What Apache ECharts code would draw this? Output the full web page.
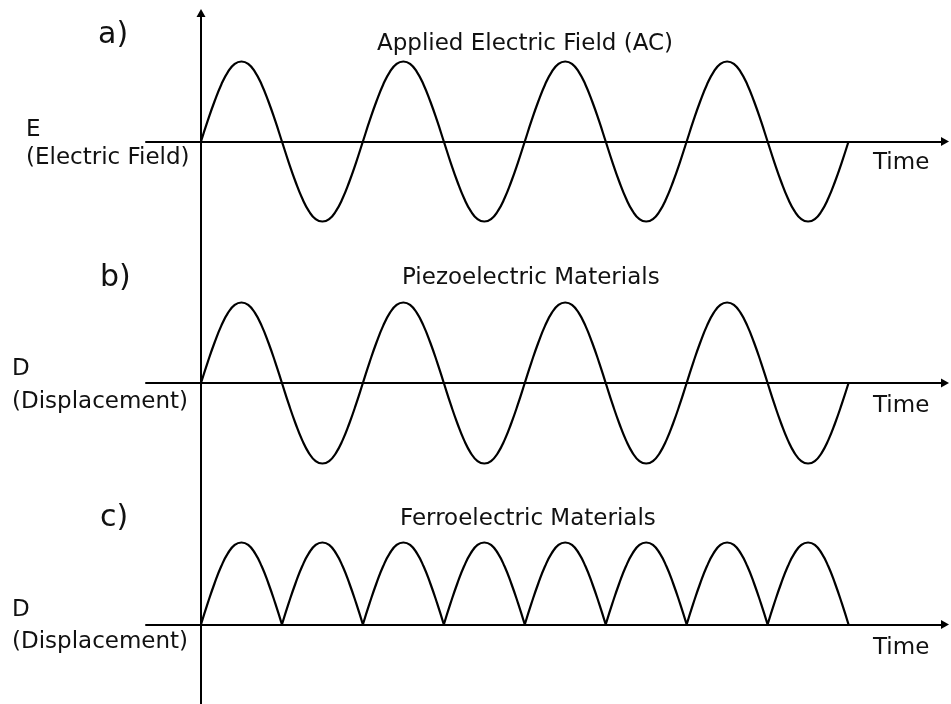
<!DOCTYPE html>
<html>
<head>
<meta charset="utf-8">
<script src="https://cdn.jsdelivr.net/npm/echarts@6/dist/echarts.min.js"></script>
<style>html,body{margin:0;padding:0;background:#fff}#chart{width:951px;height:704px}</style>
</head>
<body>
<div id="chart"></div>
<script>
// time steps (one half-period of the applied field = 12 steps)
const time = [0,1,2,3,4,5,6,7,8,9,10,11,12,13,14,15,16,17,18,19,20,21,22,23,
  24,25,26,27,28,29,30,31,32,33,34,35,36,37,38,39,40,41,42,43,44,45,46,47,
  48,49,50,51,52,53,54,55,56,57,58,59,60,61,62,63,64,65,66,67,68,69,70,71,
  72,73,74,75,76,77,78,79,80,81,82,83,84,85,86,87,88,89,90,91,92,93,94,95,
  96];

// a) applied electric field E (AC)
const fieldE = [
  0,0.26,0.5,0.71,0.87,0.97,1,0.97,0.87,0.71,0.5,0.26,0,-0.26,-0.5,-0.71,-0.87,-0.97,-1,-0.97,-0.87,-0.71,-0.5,-0.26,
  0,0.26,0.5,0.71,0.87,0.97,1,0.97,0.87,0.71,0.5,0.26,0,-0.26,-0.5,-0.71,-0.87,-0.97,-1,-0.97,-0.87,-0.71,-0.5,-0.26,
  0,0.26,0.5,0.71,0.87,0.97,1,0.97,0.87,0.71,0.5,0.26,0,-0.26,-0.5,-0.71,-0.87,-0.97,-1,-0.97,-0.87,-0.71,-0.5,-0.26,
  0,0.26,0.5,0.71,0.87,0.97,1,0.97,0.87,0.71,0.5,0.26,0,-0.26,-0.5,-0.71,-0.87,-0.97,-1,-0.97,-0.87,-0.71,-0.5,-0.26,
  0];

// b) piezoelectric displacement D
const piezoD = [
  0,0.26,0.5,0.71,0.87,0.97,1,0.97,0.87,0.71,0.5,0.26,0,-0.26,-0.5,-0.71,-0.87,-0.97,-1,-0.97,-0.87,-0.71,-0.5,-0.26,
  0,0.26,0.5,0.71,0.87,0.97,1,0.97,0.87,0.71,0.5,0.26,0,-0.26,-0.5,-0.71,-0.87,-0.97,-1,-0.97,-0.87,-0.71,-0.5,-0.26,
  0,0.26,0.5,0.71,0.87,0.97,1,0.97,0.87,0.71,0.5,0.26,0,-0.26,-0.5,-0.71,-0.87,-0.97,-1,-0.97,-0.87,-0.71,-0.5,-0.26,
  0,0.26,0.5,0.71,0.87,0.97,1,0.97,0.87,0.71,0.5,0.26,0,-0.26,-0.5,-0.71,-0.87,-0.97,-1,-0.97,-0.87,-0.71,-0.5,-0.26,
  0];

// c) ferroelectric displacement D
const ferroD = [
  0,0.26,0.5,0.71,0.87,0.97,1,0.97,0.87,0.71,0.5,0.26,0,0.26,0.5,0.71,0.87,0.97,1,0.97,0.87,0.71,0.5,0.26,
  0,0.26,0.5,0.71,0.87,0.97,1,0.97,0.87,0.71,0.5,0.26,0,0.26,0.5,0.71,0.87,0.97,1,0.97,0.87,0.71,0.5,0.26,
  0,0.26,0.5,0.71,0.87,0.97,1,0.97,0.87,0.71,0.5,0.26,0,0.26,0.5,0.71,0.87,0.97,1,0.97,0.87,0.71,0.5,0.26,
  0,0.26,0.5,0.71,0.87,0.97,1,0.97,0.87,0.71,0.5,0.26,0,0.26,0.5,0.71,0.87,0.97,1,0.97,0.87,0.71,0.5,0.26,
  0];

const panelTitles = ['Applied Electric Field (AC)', 'Piezoelectric Materials', 'Ferroelectric Materials'];
const panelTags = ['a)', 'b)', 'c)'];
const timeLabel = 'Time';

// ---- build
function pairs(vals) { return time.map((t, i) => [t, vals[i]]); }
function humps(vals) {
  const out = [];
  time.forEach((t, i) => {
    out.push([t, vals[i]]);
    if (vals[i] === 0 && i > 0 && i < time.length - 1) { out.push([t, '-']); out.push([t, vals[i]]); }
  });
  return out;
}

const INK = '#000';
const FONT = '"DejaVu Sans", "Liberation Sans", sans-serif';
const X_MIN = -8.154, X_MAX = 110.3;

function xAx(gi, showLine) {
  return {
    type: 'value', gridIndex: gi, min: X_MIN, max: X_MAX,
    axisLine: { show: showLine, onZero: true, symbol: ['none', 'triangle'], symbolSize: [9, 8],
      lineStyle: { color: INK, width: 2 } },
    axisTick: { show: false }, axisLabel: { show: false }, splitLine: { show: false }
  };
}
function yAx(gi, min, max, showLine) {
  return {
    type: 'value', gridIndex: gi, min: min, max: max,
    axisLine: { show: showLine, onZero: true, symbol: ['none', 'triangle'], symbolSize: [9, 8],
      lineStyle: { color: INK, width: 2 } },
    axisTick: { show: false }, axisLabel: { show: false }, splitLine: { show: false }
  };
}

function txt(text, x, y, size) {
  return { type: 'text', x: x, y: y, silent: true,
    style: { text: text, fontFamily: FONT, fontSize: size, fill: '#111', align: 'left', verticalAlign: 'middle' } };
}

const lineStyle = { color: INK, width: 2.2 };

const option = {
  animation: false,
  backgroundColor: '#fff',
  grid: [
    { left: 146, width: 799, top: 21.5, height: 240 },
    { left: 146, width: 799, top: 262.25, height: 241.5 },
    { left: 146, width: 799, top: 526.1, height: 139.4 },
    { left: 146, width: 799, top: 13, height: 691 }
  ],
  xAxis: [xAx(0, true), xAx(1, true), xAx(2, true), xAx(3, false)],
  yAxis: [yAx(0, -1.5, 1.5, false), yAx(1, -1.5, 1.5, false), yAx(2, -0.5, 1.2, false), yAx(3, 0, 1, true)],
  series: [
    { type: 'line', xAxisIndex: 0, yAxisIndex: 0, data: pairs(fieldE), smooth: true, showSymbol: false, clip: false, lineStyle: lineStyle },
    { type: 'line', xAxisIndex: 1, yAxisIndex: 1, data: pairs(piezoD), smooth: true, showSymbol: false, clip: false, lineStyle: lineStyle },
    { type: 'line', xAxisIndex: 2, yAxisIndex: 2, data: humps(ferroD), smooth: true, showSymbol: false, clip: false, connectNulls: false, lineStyle: lineStyle }
  ],
  graphic: [
    txt(panelTags[0], 98, 35.5, 30),
    txt(panelTags[1], 100, 278.5, 30),
    txt(panelTags[2], 100, 518.5, 30),
    txt(panelTitles[0], 377, 44.3, 23),
    txt(panelTitles[1], 402, 278, 23),
    txt(panelTitles[2], 400, 519, 23),
    txt('E', 26, 130, 23),
    txt('(Electric Field)', 26, 158.5, 23),
    txt('D', 12, 369, 23),
    txt('(Displacement)', 12, 402, 23),
    txt('D', 12, 610, 23),
    txt('(Displacement)', 12, 642, 23),
    txt(timeLabel, 873, 163, 23),
    txt(timeLabel, 873, 406, 23),
    txt(timeLabel, 873, 648, 23)
  ]
};

const chart = echarts.init(document.getElementById('chart'), null, { renderer: 'canvas' });
chart.setOption(option);
</script>
</body>
</html>
